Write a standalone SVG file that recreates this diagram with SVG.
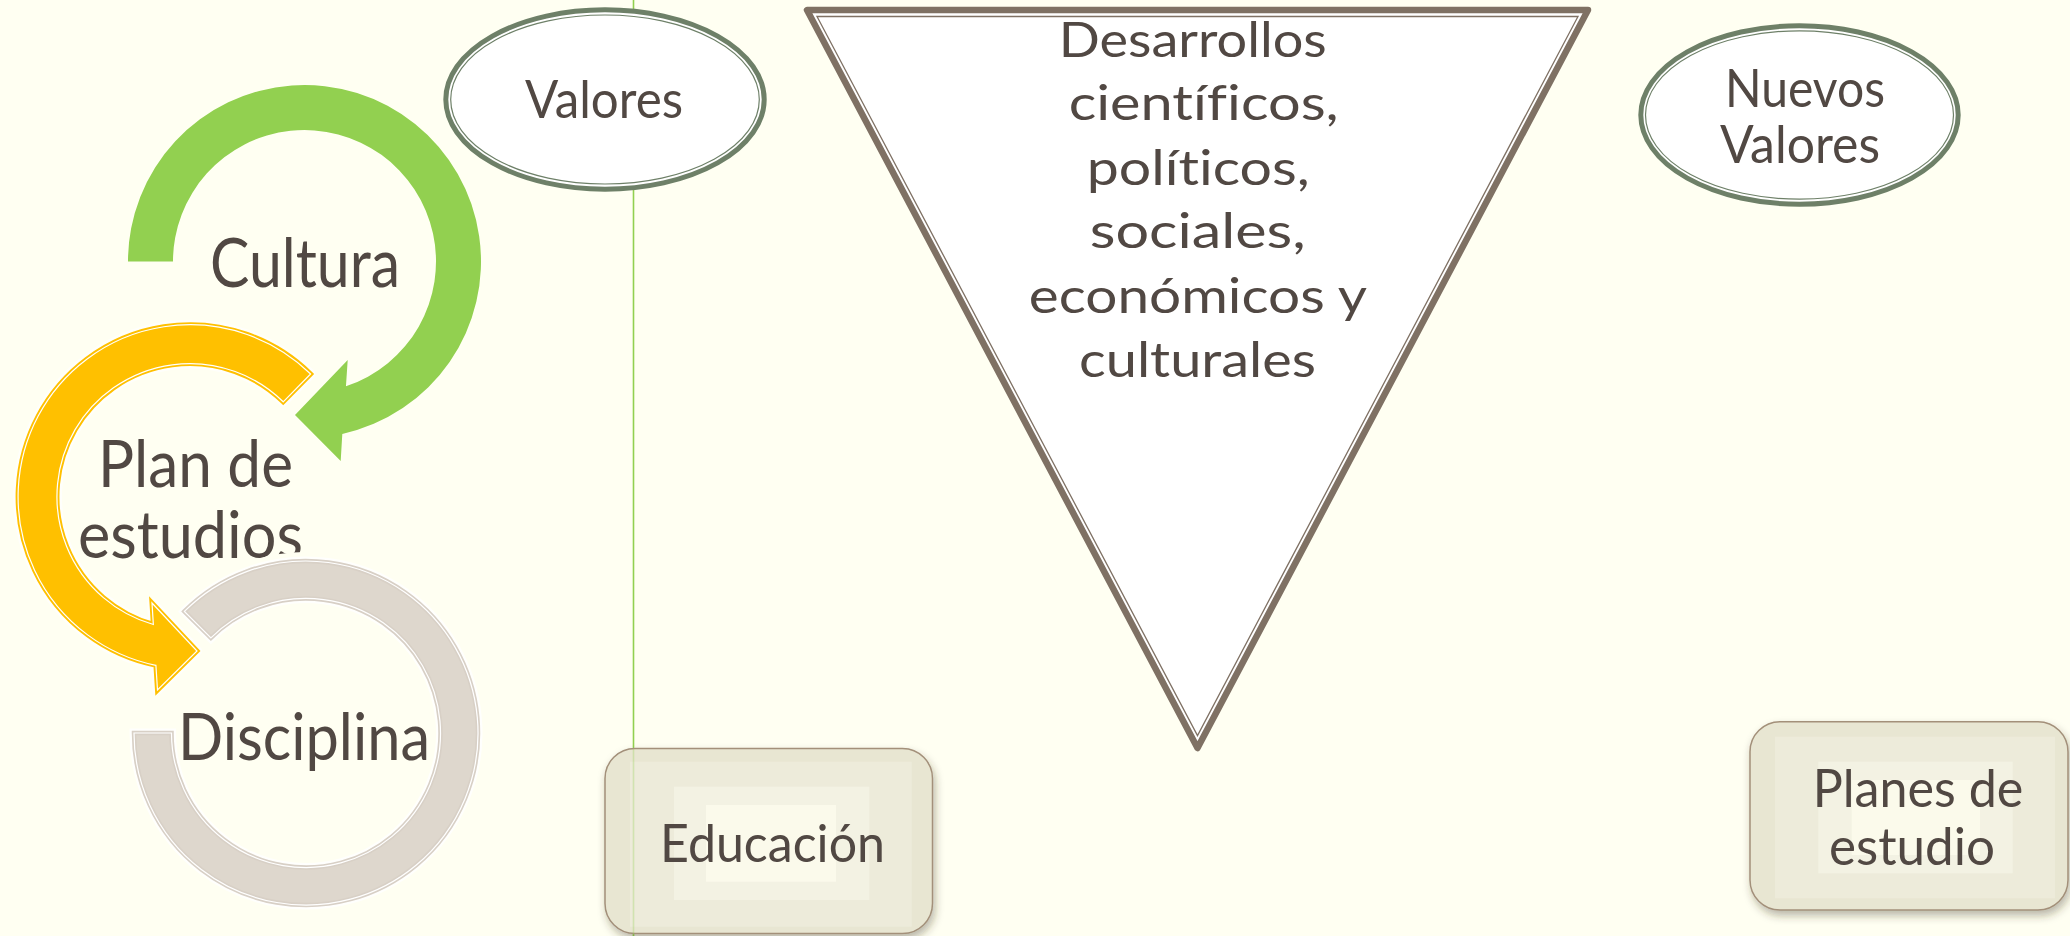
<svg xmlns="http://www.w3.org/2000/svg" width="2070" height="936" viewBox="0 0 2070 936">
<style>
.t{font-family:Lato,"Open Sans","Liberation Sans",sans-serif;fill:#514843;text-anchor:middle;font-variant-ligatures:none}
.ell{fill:#FFFFFF;stroke:#6E8068;stroke-width:5}
.ellin{fill:none;stroke:#6E8068;stroke-width:1.2}
.boxbase{fill:#E8E6D2;stroke:#A3907A;stroke-width:1.5}
</style>
<defs>
<filter id="sh" x="-10%" y="-10%" width="130%" height="140%">
<feDropShadow dx="2" dy="5" stdDeviation="4" flood-color="#3a3020" flood-opacity="0.35"/>
</filter>
</defs>
<rect x="0" y="0" width="2070" height="936" fill="#FFFFF2"/>

<g id="divider">
<line x1="633.5" y1="0" x2="633.5" y2="936" stroke="#92D050" stroke-width="1.6"/>
</g>

<g id="cultura">
<path d="M 128 261.5 A 176.5 176.5 0 1 1 342.3 433.9 L 340.7 461 L 295 415 L 347.7 360 L 345.95 386.3 A 131.5 131.5 0 1 0 173 261.5 Z" fill="#92D050"/>
<text class="t" x="305" y="287" font-size="68" textLength="190" lengthAdjust="spacingAndGlyphs">Cultura</text>
</g>

<g id="plan-de-estudios">
<path d="M 310.6 374 A 172 172 0 1 0 155.9 665.3 L 157.5 690 L 197 651 L 152 603 L 153.35 624.5 A 133 133 0 1 1 283.2 401.8 Z" fill="none" stroke="#FFFFFF" stroke-width="10" stroke-opacity="0.7" stroke-linejoin="round"/>
<path d="M 310.6 374 A 172 172 0 1 0 155.9 665.3 L 157.5 690 L 197 651 L 152 603 L 153.35 624.5 A 133 133 0 1 1 283.2 401.8 Z" fill="#FFC000" stroke="#FFC000" stroke-width="5"/>
<path d="M 310.6 374 A 172 172 0 1 0 155.9 665.3 L 157.5 690 L 197 651 L 152 603 L 153.35 624.5 A 133 133 0 1 1 283.2 401.8 Z" fill="none" stroke="#FFFFFF" stroke-width="1.2"/>
<text class="t" x="195.5" y="487" font-size="65" textLength="195" lengthAdjust="spacingAndGlyphs">Plan de</text>
<text class="t" x="190.5" y="558" font-size="65" textLength="225" lengthAdjust="spacingAndGlyphs">estudios</text>
</g>

<g id="disciplina">
<path d="M 134 733 A 172 172 0 1 0 184.4 611.4 L 210.9 637.9 A 134.5 134.5 0 1 1 171.5 733 Z" fill="#FFFFF2" stroke="#FFFFF2" stroke-width="18" stroke-linejoin="round"/>
<path d="M 134 733 A 172 172 0 1 0 184.4 611.4 L 210.9 637.9 A 134.5 134.5 0 1 1 171.5 733 Z" fill="none" stroke="#FFFFFF" stroke-width="9" stroke-opacity="0.8"/>
<path d="M 134 733 A 172 172 0 1 0 184.4 611.4 L 210.9 637.9 A 134.5 134.5 0 1 1 171.5 733 Z" fill="#DED7CD" stroke="#D8D0C6" stroke-width="4.5"/>
<path d="M 134 733 A 172 172 0 1 0 184.4 611.4 L 210.9 637.9 A 134.5 134.5 0 1 1 171.5 733 Z" fill="none" stroke="#FFFFFF" stroke-width="1.2"/>
<text class="t" x="304" y="760" font-size="65" textLength="252" lengthAdjust="spacingAndGlyphs">Disciplina</text>
</g>

<g id="valores">
<ellipse class="ell" cx="605" cy="99.5" rx="159.2" ry="89.7"/>
<ellipse class="ellin" cx="605" cy="99.5" rx="154.3" ry="84.5"/>
<text class="t" x="604" y="118.3" font-size="53" textLength="158" lengthAdjust="spacingAndGlyphs">Valores</text>
</g>

<g id="desarrollos">
<polygon points="807,10 1588,10 1197.5,748" fill="#FFFFFF" stroke="#7F7164" stroke-width="6.5" stroke-linejoin="round"/>
<polygon points="817,16.5 1578,16.5 1197.5,735.5" fill="none" stroke="#7F7164" stroke-width="1.3"/>
<text class="t" font-size="49">
<tspan x="1199" y="56.7" textLength="268" lengthAdjust="spacingAndGlyphs">Desarrollos</tspan>
<tspan x="1210" y="120" textLength="270" lengthAdjust="spacingAndGlyphs">científicos,</tspan>
<tspan x="1204.5" y="185" textLength="223" lengthAdjust="spacingAndGlyphs">políticos,</tspan>
<tspan x="1204" y="248.3" textLength="216" lengthAdjust="spacingAndGlyphs">sociales,</tspan>
<tspan x="1203.5" y="313.3" textLength="337" lengthAdjust="spacingAndGlyphs">económicos y</tspan>
<tspan x="1197.5" y="376.7" textLength="237" lengthAdjust="spacingAndGlyphs">culturales</tspan>
</text>
</g>

<g id="nuevos-valores">
<ellipse class="ell" cx="1799.5" cy="115" rx="158.7" ry="89.2"/>
<ellipse class="ellin" cx="1799.5" cy="115" rx="154" ry="84.2"/>
<text class="t" x="1805" y="106.7" font-size="53" textLength="160" lengthAdjust="spacingAndGlyphs">Nuevos</text>
<text class="t" x="1800" y="163.3" font-size="53" textLength="160" lengthAdjust="spacingAndGlyphs">Valores</text>
</g>

<g id="educacion">
<rect class="boxbase" x="605" y="748.5" width="327.5" height="185" rx="30" filter="url(#sh)"/>
<rect x="630" y="761.7" width="281.7" height="165" fill="#EDEBDA"/>
<rect x="674" y="786.7" width="195.3" height="113.3" fill="#F3F2E3"/>
<rect x="706" y="805" width="130" height="76.7" fill="#FBFAEB"/>
<line x1="633.5" y1="749" x2="633.5" y2="936" stroke="#92D050" stroke-width="1.6" stroke-opacity="0.3"/>
<text class="t" x="772.5" y="861.7" font-size="53" textLength="225" lengthAdjust="spacingAndGlyphs">Educación</text>
</g>

<g id="planes-de-estudio">
<rect class="boxbase" x="1750" y="721.7" width="318" height="188.3" rx="30" filter="url(#sh)"/>
<rect x="1775" y="736.7" width="280" height="161.6" fill="#EDEBDA"/>
<rect x="1818.3" y="761.7" width="194.4" height="111.6" fill="#F3F2E3"/>
<rect x="1851.7" y="780" width="128.3" height="75" fill="#FBFAEB"/>
<text class="t" x="1918" y="807.3" font-size="53" textLength="210.6" lengthAdjust="spacingAndGlyphs">Planes de</text>
<text class="t" x="1912" y="865" font-size="53" textLength="166" lengthAdjust="spacingAndGlyphs">estudio</text>
</g>

<g id="connectors"></g>
</svg>
